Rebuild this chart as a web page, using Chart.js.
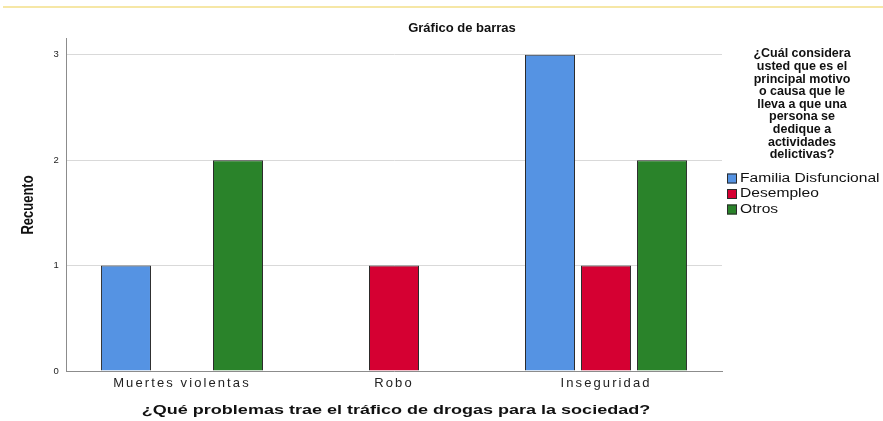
<!DOCTYPE html>
<html>
<head>
<meta charset="utf-8">
<script src="https://cdn.jsdelivr.net/npm/chart.js@4.4.0/dist/chart.umd.min.js"></script>
<style>
    body { margin: 0; background: #fff; }
    #caja { position: relative; width: 883px; height: 421px; }
</style>
</head>
<body>
<div id="caja"><canvas id="grafico"></canvas></div>
<script>
// datos
const categorias = ['Muertes violentas', 'Robo', 'Inseguridad']
const familiaDisfuncional = [1, 0, 3]
const desempleo = [0, 1, 1]
const otros = [2, 0, 2]
const nombresSeries = ['Familia Disfuncional', 'Desempleo', 'Otros']
const coloresSeries = ['#5593e3', '#d50032', '#2a832a']
const marcasY = [0, 1, 2, 3]
const tituloGrafico = 'Gráfico de barras'
const tituloX = '¿Qué problemas trae el tráfico de drogas para la sociedad?'
const tituloY = 'Recuento'
const tituloLeyenda = ['¿Cuál considera', 'usted que es el', 'principal motivo', 'o causa que le',
    'lleva a que una', 'persona se', 'dedique a', 'actividades', 'delictivas?']

const FUENTE = '"Liberation Sans", Arial, sans-serif'

function armarSerie(valores) {
    // los ceros no se dibujan en SPSS
    return valores.map((v, i) => ({ x: i, y: v === 0 ? null : v }))
}

const series = [familiaDisfuncional, desempleo, otros]
const datasets = series.map((s, i) => ({
    label: nombresSeries[i],
    data: armarSerie(s),
    backgroundColor: coloresSeries[i],
    borderColor: '#2b2b2b',
    borderWidth: 1,
    borderSkipped: 'start',
    categoryPercentage: 0.7925,
    barPercentage: 0.893
}))

function textoEstirado(ctx, texto, x, y, escala) {
    ctx.save()
    ctx.translate(x, y)
    ctx.scale(escala, 1)
    ctx.fillText(texto, 0, 0)
    ctx.restore()
}

const textos = {
    id: 'textos',
    beforeDraw(chart) {
        chart.ctx.letterSpacing = '2.1px'
    },
    beforeDatasetsDraw(chart) {
        chart.ctx.letterSpacing = '0px'
    },
    afterDraw(chart) {
        const ctx = chart.ctx
        const area = chart.chartArea
        ctx.save()
        ctx.letterSpacing = '0px'

        // linea amarilla de arriba
        ctx.strokeStyle = '#f6e7a6'
        ctx.lineWidth = 2
        ctx.beginPath()
        ctx.moveTo(3, 7)
        ctx.lineTo(883, 7)
        ctx.stroke()

        ctx.fillStyle = '#111'
        ctx.textAlign = 'center'
        ctx.textBaseline = 'middle'

        ctx.font = 'bold 13px ' + FUENTE
        textoEstirado(ctx, tituloGrafico, 462, 28, 1.0)

        ctx.font = 'bold 13px ' + FUENTE
        textoEstirado(ctx, tituloX, (area.left + area.right) / 2 + 2, 410, 1.385)

        ctx.save()
        ctx.translate(29, 205)
        ctx.rotate(-Math.PI / 2)
        ctx.font = 'bold 13px ' + FUENTE
        ctx.scale(1, 1.25)
        ctx.fillText(tituloY, 0, 0)
        ctx.restore()

        // leyenda
        ctx.font = 'bold 12.5px ' + FUENTE
        tituloLeyenda.forEach((linea, i) => {
            textoEstirado(ctx, linea, 802, 54 + i * 12.6, 1.0)
        })

        ctx.textAlign = 'left'
        ctx.font = '12px ' + FUENTE
        nombresSeries.forEach((nombre, i) => {
            const y = 178.5 + i * 15.5
            ctx.fillStyle = coloresSeries[i]
            ctx.fillRect(727, y - 5, 10, 10)
            ctx.strokeStyle = '#2b2b2b'
            ctx.lineWidth = 1
            ctx.strokeRect(727.5, y - 4.5, 9, 9)
            ctx.fillStyle = '#111'
            textoEstirado(ctx, nombre, 740, y, 1.3)
        })
        ctx.restore()
    }
}

new Chart(document.getElementById('grafico'), {
    type: 'bar',
    data: { datasets: datasets },
    options: {
        responsive: true,
        maintainAspectRatio: false,
        animation: false,
        events: [],
        layout: { padding: { top: 38, right: 161, left: 0, bottom: 0 } },
        plugins: {
            legend: { display: false },
            title: { display: false },
            tooltip: { enabled: false }
        },
        scales: {
            x: {
                type: 'linear',
                offset: false,
                min: -0.547,
                max: 2.547,
                afterBuildTicks: (s) => { s.ticks = categorias.map((c, i) => ({ value: i })) },
                afterFit: (s) => { s.height = 50 },
                grid: { display: false, drawTicks: false, offset: false },
                border: { display: true, color: '#8c8c8c', width: 1 },
                ticks: {
                    autoSkip: false,
                    maxRotation: 0,
                    padding: 5,
                    color: '#222',
                    font: { family: FUENTE, size: 13 },
                    callback: (v) => categorias[v]
                }
            },
            y: {
                min: 0,
                max: 3.16,
                afterBuildTicks: (s) => { s.ticks = marcasY.map(v => ({ value: v })) },
                afterFit: (s) => { s.width = 66 },
                grid: { color: '#d9d9d9', lineWidth: 1, drawTicks: false },
                border: { display: true, color: '#8c8c8c', width: 1 },
                ticks: {
                    padding: 5,
                    color: '#222',
                    font: { family: FUENTE, size: 9.5 }
                }
            }
        }
    },
    plugins: [textos]
})
</script>
</body>
</html>
